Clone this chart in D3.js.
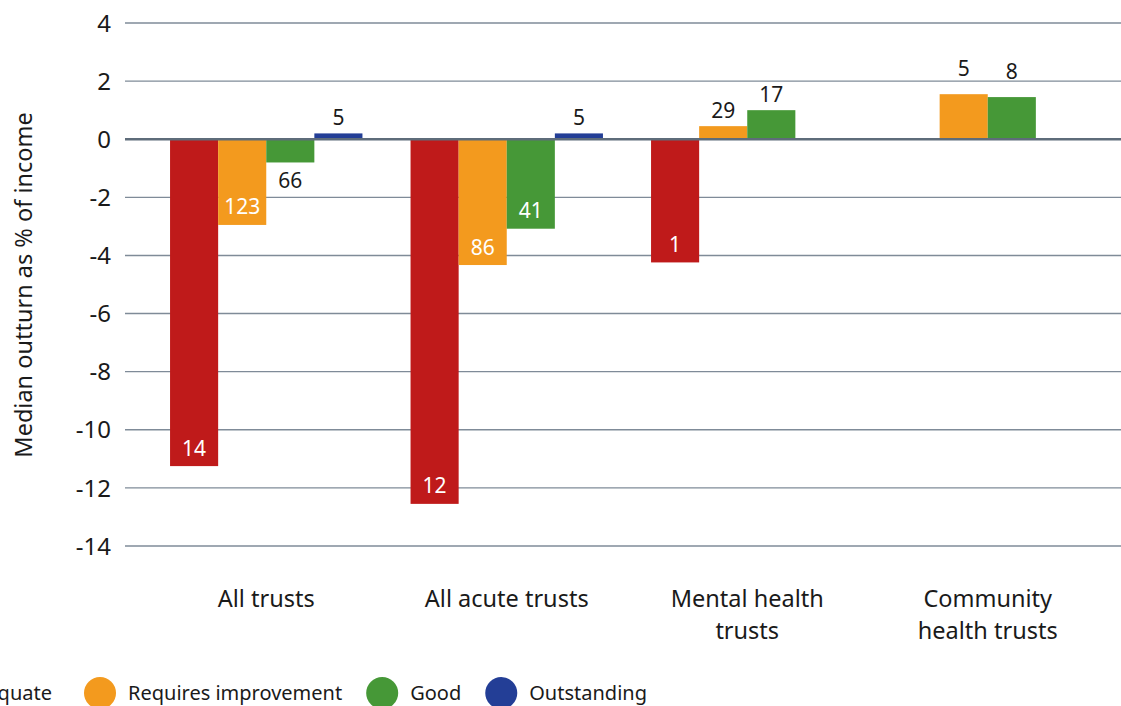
<!DOCTYPE html>
<html lang="en">
<head>
  <meta charset="UTF-8">
  <title>Median outturn</title>
  <style>
    body{margin:0; background:#fff;}
    svg{display:block; font-family: "Noto Sans", "Open Sans", sans-serif;}
  </style>
</head>
<body>
  <div id="chart"></div>
  <script src="https://d3js.org/d3.v7.min.js"></script>
  <script>
  // DATA
  const categories = ["All trusts", "All acute trusts", "Mental health trusts", "Community health trusts"];
  const catLines = [["All trusts"], ["All acute trusts"], ["Mental health", "trusts"], ["Community", "health trusts"]];
  const ratings = ["Inadequate", "Requires improvement", "Good", "Outstanding"];
  // median outturn % per rating, null = no bar
  const inadequate  = [-11.25, -12.55, -4.24, null];
  const requiresImp = [-2.95, -4.33, 0.45, 1.55];
  const good        = [-0.8, -3.08, 1.0, 1.45];
  const outstanding = [0.2, 0.2, null, null];
  // number of trusts (labels)
  const nInadequate  = [14, 12, 1, null];
  const nRequiresImp = [123, 86, 29, 5];
  const nGood        = [66, 41, 17, 8];
  const nOutstanding = [5, 5, null, null];
  const yTicks = [4, 2, 0, -2, -4, -6, -8, -10, -12, -14];

  // CONSTANTS
  const width = 1121, height = 706;
  const colors = ["#bf1a1a", "#f39a1e", "#469837", "#233e96"];
  const cgrid = "#7f8b98";
  const czero = "#5e6c7a";
  const ctext = "#1a1a1a";

  const series = [inadequate, requiresImp, good, outstanding];
  const counts = [nInadequate, nRequiresImp, nGood, nOutstanding];

  const bars = [];
  categories.forEach((c, i) => {
    ratings.forEach((r, j) => {
      if (series[j][i] != null) bars.push({cat: c, rating: r, value: series[j][i], n: counts[j][i], color: colors[j]});
    });
  });

  const svg = d3.select("#chart").append("svg")
    .attr("width", width)
    .attr("height", height);

  // SCALES
  const x0 = d3.scaleBand().domain(categories).range([146, 1108]).paddingInner(0.2).paddingOuter(0.1);
  const x1 = d3.scaleBand().domain(ratings).range([0, x0.bandwidth()]);
  const y = d3.scaleLinear().domain([-14, 4]).range([546, 23]);

  // GRID
  svg.append("g").selectAll("line")
    .data(yTicks.filter(d => d !== 0))
    .join("line")
    .attr("x1", 125).attr("x2", width)
    .attr("y1", d => y(d)).attr("y2", d => y(d))
    .attr("stroke", cgrid).attr("stroke-width", 1.4);

  // Y TICK LABELS
  svg.append("g").selectAll("text")
    .data(yTicks)
    .join("text")
    .attr("x", 111)
    .attr("y", d => y(d))
    .attr("dy", "0.36em")
    .attr("text-anchor", "end")
    .style("font-size", "24px")
    .style("fill", ctext)
    .text(d => d);

  // Y TITLE
  svg.append("text")
    .attr("transform", "translate(32,285) rotate(-90)")
    .attr("text-anchor", "middle")
    .style("font-size", "23.5px")
    .style("fill", ctext)
    .text("Median outturn as % of income");

  // BARS
  const g = svg.append("g");
  g.selectAll("rect")
    .data(bars)
    .join("rect")
    .attr("x", d => x0(d.cat) + x1(d.rating))
    .attr("width", x1.bandwidth())
    .attr("y", d => y(Math.max(0, d.value)))
    .attr("height", d => Math.abs(y(d.value) - y(0)))
    .attr("fill", d => d.color);

  // ZERO LINE
  svg.append("line")
    .attr("x1", 125).attr("x2", width)
    .attr("y1", y(0)).attr("y2", y(0))
    .attr("stroke", czero).attr("stroke-width", 2.6);

  // VALUE LABELS
  g.selectAll("text")
    .data(bars)
    .join("text")
    .attr("x", d => x0(d.cat) + x1(d.rating) + x1.bandwidth() / 2)
    .attr("y", d => {
      const h = Math.abs(y(d.value) - y(0));
      if (d.value >= 0) return y(d.value) - (h > 35 ? 26 : 16);
      if (h < 40) return y(d.value) + 18;
      return y(d.value) - 18;
    })
    .attr("dy", "0.36em")
    .attr("text-anchor", "middle")
    .style("font-size", "21px")
    .style("fill", d => (d.value < 0 && Math.abs(y(d.value) - y(0)) >= 40) ? "#fff" : ctext)
    .text(d => d.n);

  // CATEGORY LABELS
  const cl = svg.append("g").selectAll("text")
    .data(categories)
    .join("text")
    .attr("x", d => x0(d) + x0.bandwidth() / 2)
    .attr("y", 607)
    .attr("text-anchor", "middle")
    .style("font-size", "23.5px")
    .style("fill", ctext);
  cl.selectAll("tspan")
    .data((d, i) => catLines[i])
    .join("tspan")
    .attr("x", function() { return d3.select(this.parentNode).attr("x"); })
    .attr("dy", (d, i) => i === 0 ? 0 : 32)
    .text(d => d);

  // LEGEND (cut off at the left like the source)
  const legend = svg.append("g");
  const items = legend.selectAll("g").data(ratings).join("g");
  items.append("circle").attr("r", 16).attr("fill", (d, i) => colors[i]);
  items.append("text")
    .attr("x", 28).attr("dy", "0.36em")
    .style("font-size", "20px")
    .style("fill", ctext)
    .text(d => d);
  const widths = items.select("text").nodes().map(n => n.getComputedTextLength());
  // place orange circle at x=100, the others follow
  const pos = [];
  pos[1] = 100;
  pos[0] = pos[1] - 48 - widths[0] - 28;
  for (let i = 2; i < ratings.length; i++) pos[i] = pos[i - 1] + 28 + widths[i - 1] + 40;
  items.attr("transform", (d, i) => `translate(${pos[i]},693)`);
  </script>
</body>
</html>
